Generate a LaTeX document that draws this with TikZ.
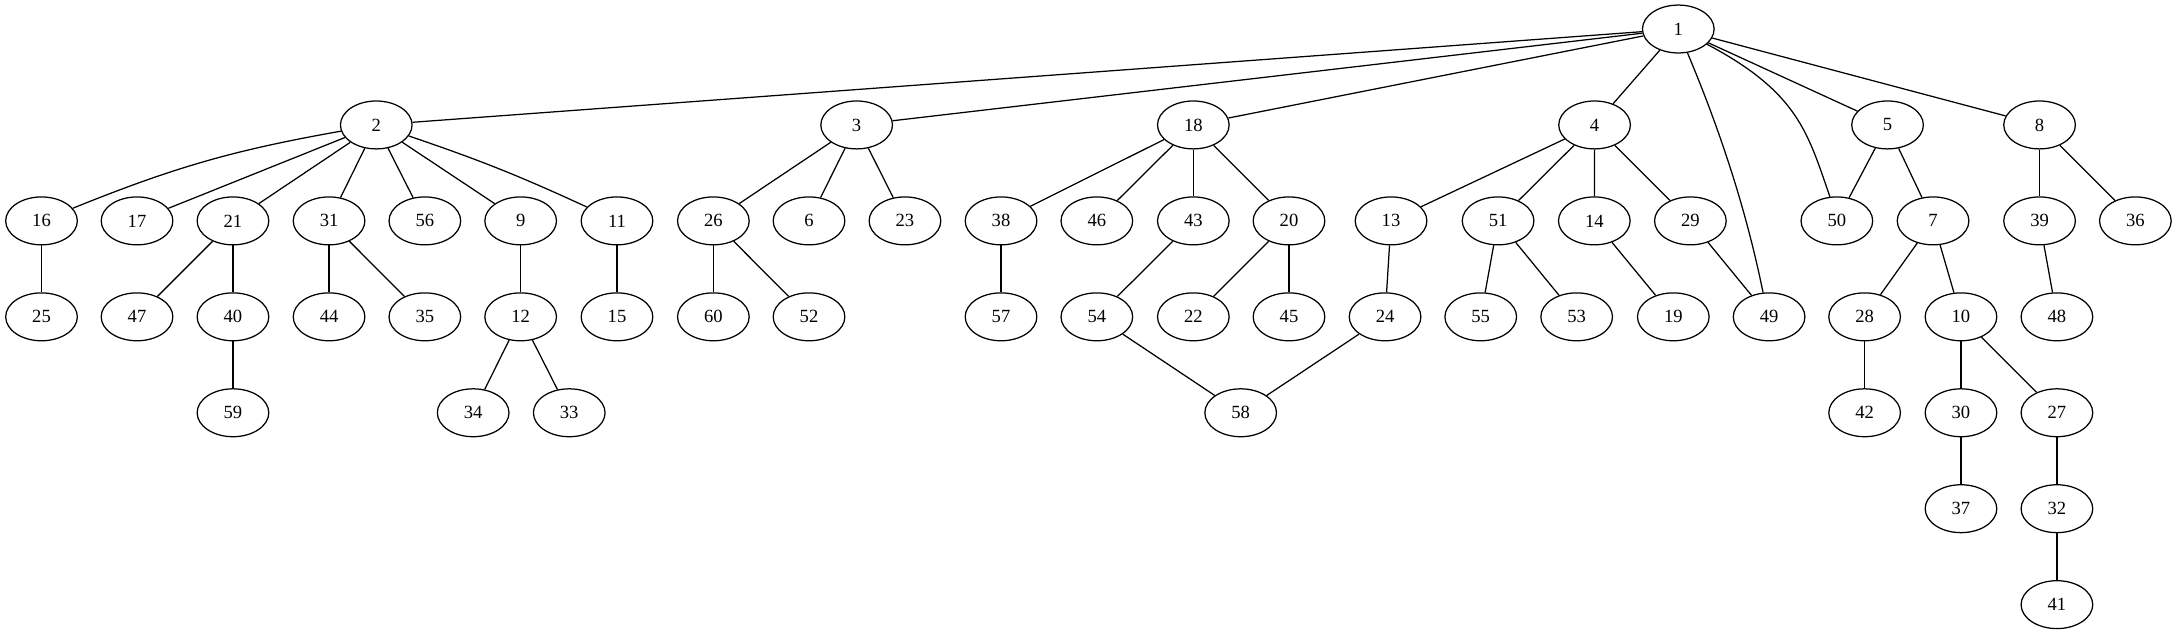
\documentclass[tikz,border=0pt]{standalone}
\usepackage{fontspec}
\setmainfont{Liberation Serif}
\usetikzlibrary{shapes.geometric}
\tikzset{
  vtx/.style={ellipse, draw, line width=0.9pt, minimum width=51.6pt, minimum height=34.5pt, inner sep=0pt, font=\fontsize{13.4}{15}\selectfont},
  edg/.style={line width=0.9pt}
}
\begin{document}
\begin{tikzpicture}[x=1pt,y=-1pt]
\useasboundingbox (0,0) rectangle (1568,457);
% row 0
\node[vtx] (n1) at (1208.8,20.9) {1};
% row 1
\node[vtx] (n2) at (271,90) {2};
\node[vtx] (n3) at (617,90) {3};
\node[vtx] (n18) at (859.5,90) {18};
\node[vtx] (n4) at (1148.5,90) {4};
\node[vtx] (n5) at (1359.5,90) {5};
\node[vtx] (n8) at (1469,90) {8};
% row 2
\node[vtx] (n16) at (29.9,159.1) {16};
\node[vtx] (n17) at (98.7,159.1) {17};
\node[vtx] (n21) at (167.8,159.1) {21};
\node[vtx] (n31) at (237,159.1) {31};
\node[vtx] (n56) at (306,159.1) {56};
\node[vtx] (n9) at (375,159.1) {9};
\node[vtx] (n11) at (444.4,159.1) {11};
\node[vtx] (n26) at (513.8,159.1) {26};
\node[vtx] (n6) at (582.7,159.1) {6};
\node[vtx] (n23) at (651.8,159.1) {23};
\node[vtx] (n38) at (721,159.1) {38};
\node[vtx] (n46) at (790,159.1) {46};
\node[vtx] (n43) at (859.5,159.1) {43};
\node[vtx] (n20) at (928.4,159.1) {20};
\node[vtx] (n13) at (1001.9,159.1) {13};
\node[vtx] (n51) at (1079,159.1) {51};
\node[vtx] (n14) at (1148.3,159.1) {14};
\node[vtx] (n29) at (1217.5,159.1) {29};
\node[vtx] (n50) at (1323,159.1) {50};
\node[vtx] (n7) at (1392.3,159.1) {7};
\node[vtx] (n39) at (1469,159.1) {39};
\node[vtx] (n36) at (1538,159.1) {36};
% row 3
\node[vtx] (n25) at (29.9,228.2) {25};
\node[vtx] (n47) at (98.7,228.2) {47};
\node[vtx] (n40) at (167.8,228.2) {40};
\node[vtx] (n44) at (237,228.2) {44};
\node[vtx] (n35) at (306,228.2) {35};
\node[vtx] (n12) at (375,228.2) {12};
\node[vtx] (n15) at (444.4,228.2) {15};
\node[vtx] (n60) at (513.8,228.2) {60};
\node[vtx] (n52) at (582.7,228.2) {52};
\node[vtx] (n57) at (721,228.2) {57};
\node[vtx] (n54) at (790,228.2) {54};
\node[vtx] (n22) at (859.5,228.2) {22};
\node[vtx] (n45) at (928.4,228.2) {45};
\node[vtx] (n24) at (997.6,228.2) {24};
\node[vtx] (n55) at (1066.5,228.2) {55};
\node[vtx] (n53) at (1135.6,228.2) {53};
\node[vtx] (n19) at (1205.2,228.2) {19};
\node[vtx] (n49) at (1274.2,228.2) {49};
\node[vtx] (n28) at (1343,228.2) {28};
\node[vtx] (n10) at (1412.4,228.2) {10};
\node[vtx] (n48) at (1481.5,228.2) {48};
% row 4
\node[vtx] (n59) at (167.8,297.3) {59};
\node[vtx] (n34) at (340.8,297.3) {34};
\node[vtx] (n33) at (410,297.3) {33};
\node[vtx] (n58) at (893.6,297.3) {58};
\node[vtx] (n42) at (1343,297.3) {42};
\node[vtx] (n30) at (1412.4,297.3) {30};
\node[vtx] (n27) at (1481.5,297.3) {27};
% row 5
\node[vtx] (n37) at (1412.4,366.4) {37};
\node[vtx] (n32) at (1481.5,366.4) {32};
% row 6
\node[vtx] (n41) at (1481.5,435.5) {41};
% edges
\draw[edg] (n1) -- (n2);
\draw[edg] (n1) -- (n3);
\draw[edg] (n1) -- (n18);
\draw[edg] (n1) -- (n4);
\draw[edg] (n1) -- (n5);
\draw[edg] (n1) -- (n8);
\draw[edg] (n1.-69) .. controls +(24.4,58) and +(-11.8,-58) .. (n49.104);
\draw[edg] (n1.-28) .. controls +(66.5,35) and +(-15.8,-45) .. (n50.106);
\draw[edg] (n2) to[bend right=6] (n16);
\draw[edg] (n2) -- (n17);
\draw[edg] (n2) -- (n21);
\draw[edg] (n2) -- (n31);
\draw[edg] (n2) -- (n56);
\draw[edg] (n2) -- (n9);
\draw[edg] (n2) to[bend left=3] (n11);
\draw[edg] (n16) -- (n25);
\draw[edg] (n21) -- (n47);
\draw[edg] (n21) -- (n40);
\draw[edg] (n40) -- (n59);
\draw[edg] (n31) -- (n44);
\draw[edg] (n31) -- (n35);
\draw[edg] (n9) -- (n12);
\draw[edg] (n12) -- (n34);
\draw[edg] (n12) -- (n33);
\draw[edg] (n11) -- (n15);
\draw[edg] (n3) -- (n26);
\draw[edg] (n3) -- (n6);
\draw[edg] (n3) -- (n23);
\draw[edg] (n26) -- (n60);
\draw[edg] (n26) -- (n52);
\draw[edg] (n18) -- (n38);
\draw[edg] (n18) -- (n46);
\draw[edg] (n18) -- (n43);
\draw[edg] (n18) -- (n20);
\draw[edg] (n38) -- (n57);
\draw[edg] (n43) -- (n54);
\draw[edg] (n54) -- (n58);
\draw[edg] (n20) -- (n22);
\draw[edg] (n20) -- (n45);
\draw[edg] (n4) -- (n13);
\draw[edg] (n4) -- (n51);
\draw[edg] (n4) -- (n14);
\draw[edg] (n4) -- (n29);
\draw[edg] (n13) -- (n24);
\draw[edg] (n24) -- (n58);
\draw[edg] (n51) -- (n55);
\draw[edg] (n51) -- (n53);
\draw[edg] (n14) -- (n19);
\draw[edg] (n29) -- (n49);
\draw[edg] (n5) -- (n50);
\draw[edg] (n5) -- (n7);
\draw[edg] (n7) -- (n28);
\draw[edg] (n7) -- (n10);
\draw[edg] (n28) -- (n42);
\draw[edg] (n10) -- (n30);
\draw[edg] (n10) -- (n27);
\draw[edg] (n30) -- (n37);
\draw[edg] (n27) -- (n32);
\draw[edg] (n32) -- (n41);
\draw[edg] (n8) -- (n39);
\draw[edg] (n8) -- (n36);
\draw[edg] (n39) -- (n48);
\end{tikzpicture}
\end{document}
